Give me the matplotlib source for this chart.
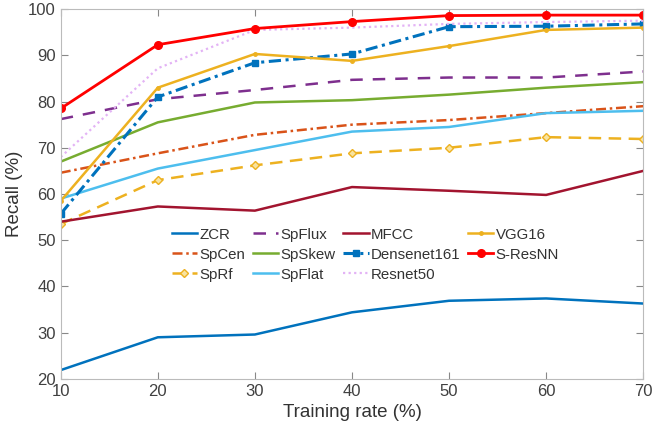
import matplotlib
matplotlib.use("Agg")
import matplotlib.pyplot as plt

plt.rcParams['font.family'] = ['Liberation Sans', 'DejaVu Sans']

rate = [10, 20, 30, 40, 50, 60, 70]

zcr = [21.9, 29.0, 29.6, 34.4, 36.9, 37.4, 36.3]
spcen = [64.6, 68.8, 72.8, 75.0, 76.0, 77.5, 79.0]
sprf = [53.5, 63.0, 66.2, 68.8, 70.0, 72.3, 71.9]
spflux = [76.2, 80.5, 82.5, 84.7, 85.2, 85.2, 86.5]
spskew = [67.0, 75.5, 79.8, 80.3, 81.5, 83.0, 84.2]
spflat = [59.0, 65.5, 69.5, 73.5, 74.5, 77.5, 78.0]
mfcc = [54.0, 57.3, 56.4, 61.5, 60.7, 59.8, 65.0]
densenet = [55.7, 81.0, 88.4, 90.3, 96.2, 96.3, 96.8]
resnet50 = [68.0, 87.2, 95.5, 96.0, 96.8, 97.2, 97.5]
vgg = [58.5, 83.0, 90.3, 88.8, 92.0, 95.5, 96.0]
sresnn = [78.5, 92.3, 95.8, 97.3, 98.6, 98.7, 98.7]

fig = plt.figure(figsize=(6.53, 4.34), dpi=100)
ax = fig.add_axes([0.093, 0.127, 0.892, 0.852])

lw = 1.8
ax.plot(rate, zcr, color='#0072BD', lw=lw, label='ZCR')
ax.plot(rate, spcen, color='#D95319', lw=lw, ls=(0, (4, 1.5, 1, 1.5)), label='SpCen')
ax.plot(rate, sprf, color='#EDB120', lw=lw, ls=(0, (5, 3)), marker='D', ms=4.5,
        mfc='#F8E3A0', mec='#EDB120', label='SpRf')
ax.plot(rate, spflux, color='#7E2F8E', lw=lw, ls=(0, (5, 4)), label='SpFlux')
ax.plot(rate, spskew, color='#77AC30', lw=lw, label='SpSkew')
ax.plot(rate, spflat, color='#4DBEEE', lw=lw, label='SpFlat')
ax.plot(rate, mfcc, color='#A2142F', lw=lw, label='MFCC')
ax.plot(rate, densenet, color='#0072BD', lw=2.2, ls=(0, (4, 1.5, 1, 1.5)), marker='s', ms=4.5,
        label='Densenet161')
ax.plot(rate, resnet50, color='#E3B3F5', lw=1.6, ls=(0, (1, 1.5)), label='Resnet50')
ax.plot(rate, vgg, color='#EDB120', lw=lw, marker='.', ms=5, label='VGG16')
ax.plot(rate, sresnn, color='#FF0000', lw=2.0, marker='o', ms=5.5, label='S-ResNN')

ax.set_xlim(10, 70)
ax.set_ylim(20, 100)
ax.set_xticks(rate)
ax.set_yticks(range(20, 101, 10))
ax.tick_params(direction='in', labelsize=12, color='#888888', labelcolor='#404040',
               length=5, top=True, right=True, labeltop=False, labelright=False)
for s in ax.spines.values():
    s.set_color('#bbbbbb')
ax.set_xlabel('Training rate (%)', fontsize=13.5, color='#333333')
ax.set_ylabel('Recall (%)', fontsize=13.5, color='#333333')

leg = ax.legend(ncol=4, frameon=False, fontsize=10.8, loc='upper left',
                bbox_to_anchor=(0.18, 0.425), handlelength=1.7, handletextpad=0.15,
                columnspacing=0.5, labelspacing=0.4, borderaxespad=0)
for t in leg.get_texts():
    t.set_color('#333333')

fig.savefig('out.png', dpi=100)
